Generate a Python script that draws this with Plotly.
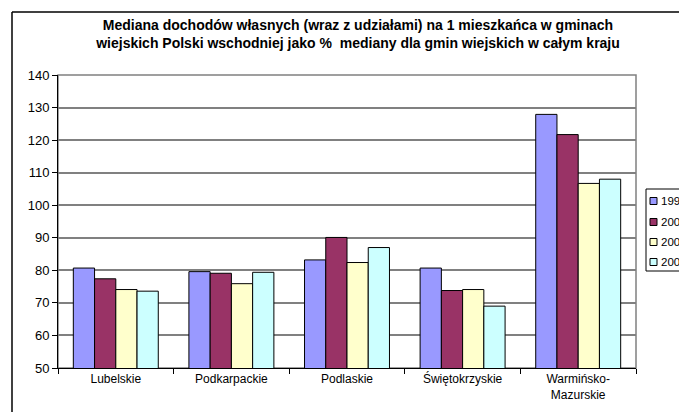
import plotly.graph_objects as go

categories = ["Lubelskie", "Podkarpackie", "Podlaskie", "Świętokrzyskie", "Warmińsko-<br>Mazurskie"]
series_names = ["1999", "2002", "2005", "2006"]
v1999 = [80.7, 79.6, 83.2, 80.7, 127.9]
v2002 = [77.4, 79.1, 90.1, 73.8, 121.7]
v2005 = [74.1, 75.9, 82.4, 74.1, 106.7]
v2006 = [73.6, 79.4, 87.0, 69.0, 108.0]
colors = ["#9999FF", "#993366", "#FFFFCC", "#CCFFFF"]
y_ticks = [50, 60, 70, 80, 90, 100, 110, 120, 130, 140]

title = ("<b>Mediana dochodów własnych (wraz z udziałami) na 1 mieszkańca w gminach<br>"
         "wiejskich Polski wschodniej jako %  mediany dla gmin wiejskich w całym kraju</b>")

fig = go.Figure()
for name, vals, col in zip(series_names, [v1999, v2002, v2005, v2006], colors):
    fig.add_trace(go.Bar(x=categories, y=vals, name=name, marker_color=col,
                         marker_line_color="black", marker_line_width=1, showlegend=False))

FONT = "Liberation Sans, Arial, sans-serif"
OFF = 8  # page body margin offset
W, H = 687 - OFF, 420 - 2 * OFF
# plot area in screen pixels: x 58..636, y 75..368
L, T = 58 - OFF, 75 - OFF
R, B = W - (636 - OFF), H - (368 - OFF)
pw, ph = W - L - R, H - T - B

def px_x(x):
    return (x - OFF - L) / pw

def px_y(y):
    return (H - B - (y - OFF)) / ph

fig.update_layout(
    width=W, height=H,
    margin=dict(l=L, r=R, t=T, b=B, autoexpand=False),
    paper_bgcolor="white", plot_bgcolor="white",
    font=dict(family=FONT, color="black", size=12),
    barmode="group", bargap=0.265, bargroupgap=0,
    title=dict(text=title, x=px_x(358), xanchor="center", xref="paper", y=1 - (30 - OFF) / H,
               yanchor="middle", font=dict(size=14, family=FONT, color="black")),
    showlegend=False,
)
fig.update_yaxes(range=[50, 140], tickvals=y_ticks, showgrid=True, gridcolor="#808080", gridwidth=1.5,
                 showline=True, linecolor="black", linewidth=1, ticks="outside", ticklen=5,
                 tickcolor="black", tickfont=dict(size=13), zeroline=False)
fig.update_xaxes(showline=True, linecolor="black", linewidth=1, ticks="outside", ticklen=5,
                 tickson="boundaries", tickcolor="black", tickfont=dict(size=12))
# plot area border (grey) and chart border
fig.add_shape(type="rect", xref="paper", yref="paper", x0=0, x1=1, y0=0, y1=1,
              line=dict(color="#808080", width=1.5), layer="below")
fig.add_shape(type="line", xref="paper", yref="paper", x0=px_x(12), x1=px_x(12), y0=px_y(440), y1=px_y(12),
              line=dict(color="black", width=1.5))
fig.add_shape(type="line", xref="paper", yref="paper", x0=px_x(12), x1=px_x(720), y0=px_y(12), y1=px_y(12),
              line=dict(color="black", width=1.5))

# custom legend (box cut off by the right edge, as in the reference)
fig.add_shape(type="rect", xref="paper", yref="paper", x0=px_x(646), x1=px_x(730), y0=px_y(271), y1=px_y(189),
              line=dict(color="black", width=1), fillcolor="white")
entry_y = [201, 222, 242, 262]
for name, col, ey in zip(series_names, colors, entry_y):
    fig.add_shape(type="rect", xref="paper", yref="paper", x0=px_x(650), x1=px_x(657),
                  y0=px_y(ey + 3.5), y1=px_y(ey - 3.5), line=dict(color="black", width=1), fillcolor=col)
    fig.add_annotation(text=name, xref="paper", yref="paper", x=px_x(660), y=px_y(ey),
                       xanchor="left", yanchor="middle", showarrow=False,
                       font=dict(size=11.5, family=FONT, color="black"), borderpad=0)

fig.write_html("out.html")
